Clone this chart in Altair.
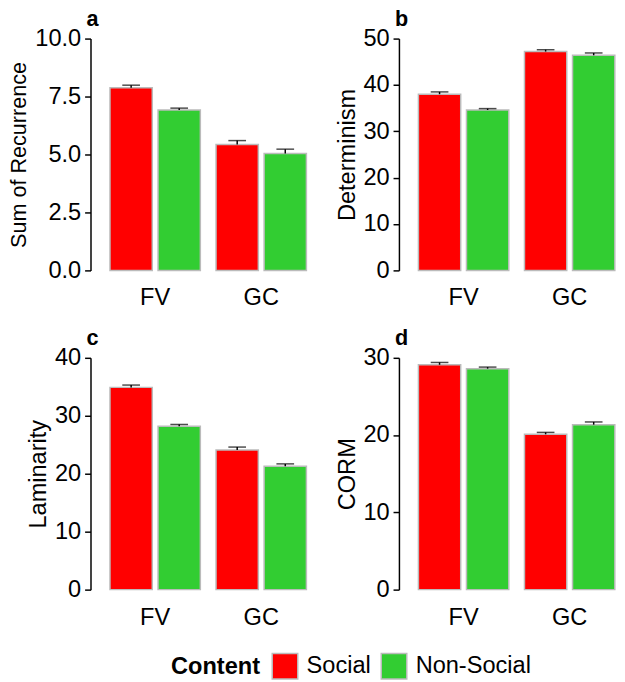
import altair as alt
import pandas as pd

# ---- data ----
groups = ["FV", "FV", "GC", "GC"]
contents = ["Social", "Non-Social", "Social", "Non-Social"]
content_order = ["Social", "Non-Social"]
content_colors = ["#FF0000", "#32CD32"]

recurrence = [7.88, 6.92, 5.43, 5.04]
recurrence_err = [0.11, 0.08, 0.17, 0.19]

determinism = [38.0, 34.6, 47.2, 46.4]
determinism_err = [0.5, 0.3, 0.4, 0.5]

laminarity = [34.9, 28.2, 24.1, 21.3]
laminarity_err = [0.4, 0.3, 0.5, 0.4]

corm = [29.1, 28.6, 20.1, 21.35]
corm_err = [0.3, 0.2, 0.25, 0.35]

ticks_a = [0, 2.5, 5, 7.5, 10]
ticks_b = [0, 10, 20, 30, 40, 50]
ticks_c = [0, 10, 20, 30, 40]
ticks_d = [0, 10, 20, 30]

panel_letters = ["a", "b", "c", "d"]

FONT = "Liberation Sans"


def panel(vals, errs, ytitle, letter, ticks, fmt, title_size):
    df = pd.DataFrame({
        "group": groups,
        "content": contents,
        "value": vals,
        "upper": [v + e for v, e in zip(vals, errs)],
    })
    base = alt.Chart(df)
    x = alt.X(
        "group:N", title=None,
        scale=alt.Scale(paddingInner=0.148, paddingOuter=0.102, align=0.9),
        axis=alt.Axis(labelAngle=0, ticks=False, domain=False, labelPadding=16,
                      labelFontSize=24),
    )
    xo = alt.XOffset("content:N", sort=content_order,
                     scale=alt.Scale(domain=content_order, paddingInner=0.12, paddingOuter=0))
    y = alt.Y(
        "value:Q", title=ytitle,
        scale=alt.Scale(domain=[ticks[0], ticks[-1]], nice=False, zero=True),
        axis=alt.Axis(values=ticks, format=fmt, grid=False, titlePadding=4,
                      titleFontSize=title_size),
    )
    color = alt.Color(
        "content:N", sort=content_order, title="Content",
        scale=alt.Scale(domain=content_order, range=content_colors),
        legend=alt.Legend(
            orient="none", direction="horizontal", titleOrient="left",
            legendX=82, legendY=625,
        ),
    )
    bars = base.mark_bar(stroke="#BBBBBB", strokeWidth=1.5).encode(
        x=x, xOffset=xo, y=y, color=color
    )
    stem = base.mark_rule(color="black", strokeWidth=1.5).encode(
        x=x, xOffset=xo, y="value:Q", y2="upper:Q"
    )
    cap = base.mark_tick(color="black", thickness=1.5, size=18).encode(
        x=x, xOffset=xo, y="upper:Q"
    )
    tag = alt.Chart(pd.DataFrame({"t": [letter]})).mark_text(
        font=FONT, fontSize=22, fontWeight="bold", color="black",
        align="left", baseline="alphabetic",
    ).encode(text="t:N", x=alt.value(-4), y=alt.value(-13))
    return alt.layer(bars, stem, cap, tag).properties(width=222, height=236)


pa = panel(recurrence, recurrence_err, "Sum of Recurrence", panel_letters[0], ticks_a, ".1f", 22)
pb = panel(determinism, determinism_err, "Determinism", panel_letters[1], ticks_b, "d", 24)
pc = panel(laminarity, laminarity_err, "Laminarity", panel_letters[2], ticks_c, "d", 24)
pd_ = panel(corm, corm_err, "CORM", panel_letters[3], ticks_d, "d", 24)

chart = alt.vconcat(
    alt.hconcat(pa, pb, spacing=27),
    alt.hconcat(pc, pd_, spacing=27),
    spacing=18,
).properties(
    padding={"top": -6, "left": 0, "right": 0, "bottom": 0}
).configure_view(stroke=None).configure_axis(
    labelFont=FONT, titleFont=FONT, labelColor="black", titleColor="black",
    labelFontSize=24, titleFontWeight="normal",
    domainColor="black", tickColor="black", domainWidth=1.5, tickWidth=1.5, tickSize=6,
    labelPadding=4,
).configure_legend(
    labelFont=FONT, titleFont=FONT, labelFontSize=24, titleFontSize=24,
    titleFontWeight="bold", labelColor="black", titleColor="black",
    symbolType="square", symbolSize=676, symbolStrokeColor="#BBBBBB",
    symbolStrokeWidth=1.5, symbolOpacity=1, labelOffset=8, columnPadding=7,
    titlePadding=11, padding=0,
)

chart.save("out.html", embed_options={"renderer": "svg", "actions": False})
